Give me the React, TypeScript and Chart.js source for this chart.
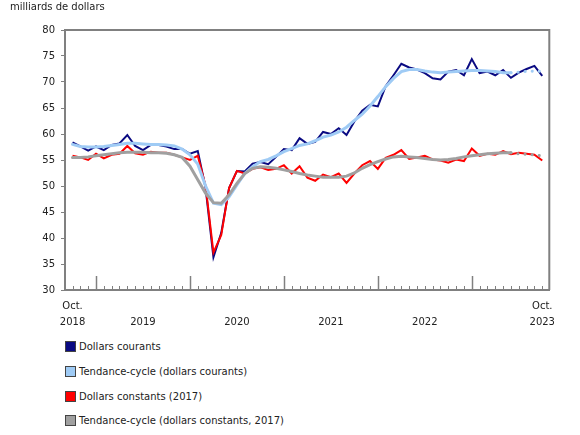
import React, { useEffect, useRef } from "react";
import { Chart, registerables } from "chart.js";

Chart.register(...registerables);

// Months from Oct. 2018 (index 0) to Oct. 2023 (index 60)
const startYear = 2018;
const startMonth = 10;
const monthLabels: string[] = [];
for (let i = 0; i <= 60; i++) {
  const m = ((startMonth - 1 + i) % 12) + 1;
  const y = startYear + Math.floor((startMonth - 1 + i) / 12);
  monthLabels.push(`${y}-${String(m).padStart(2, "0")}`);
}

const xTickPositions = [0, 9, 21, 33, 45, 60];
const xTickLabels = [
  ["Oct.", "2018"],
  ["", "2019"],
  ["", "2020"],
  ["", "2021"],
  ["", "2022"],
  ["Oct.", "2023"],
];

const seriesNames = [
  "Dollars courants",
  "Tendance-cycle (dollars courants)",
  "Dollars constants (2017)",
  "Tendance-cycle (dollars constants, 2017)",
];
const seriesColors = ["#0a0a82", "#9fcbf5", "#ff0000", "#a0a0a0"];

const dollarsCourants = [
  58.4, 57.6, 56.8, 57.6, 56.9, 57.9, 58.2, 59.8, 57.7, 56.9,
  57.9, 57.9, 57.6, 57.1, 57.1, 56.2, 56.7, 49.6, 36.3, 41.0,
  49.6, 52.9, 52.8, 54.3, 54.6, 54.2, 55.6, 57.1, 56.9, 59.2,
  58.1, 58.5, 60.4, 60.0, 61.1, 59.8, 62.4, 64.5, 65.6, 65.3,
  69.2, 71.3, 73.5, 72.8, 72.4, 71.7, 70.7, 70.5, 72.0, 72.3,
  71.3, 74.4, 71.7, 72.0, 71.3, 72.3, 70.8, 71.8, 72.5, 73.1,
  71.2,
];

const tendanceCourants = [
  58.0, 57.6, 57.5, 57.5, 57.6, 57.8, 58.0, 58.2, 58.2, 58.1,
  58.0, 58.0, 57.9, 57.7, 57.1, 56.0, 54.2, 50.0, 46.7, 46.4,
  47.9, 50.2, 52.4, 53.7, 54.7, 55.1, 55.8, 56.6, 57.2, 57.8,
  58.1, 58.7, 59.4, 59.8, 60.4, 61.3, 62.6, 63.8, 65.4, 67.2,
  69.1, 70.7, 72.0, 72.4, 72.4, 72.1, 71.9, 71.8, 71.9, 72.0,
  72.1, 72.2, 72.2, 72.1, 72.0, 71.8, 71.8, 71.9, 72.05, 72.1,
  72.05,
];

const dollarsConstants = [
  55.8, 55.5, 55.0, 56.2, 55.3, 56.0, 56.2, 57.7, 56.3, 56.0,
  56.6, 56.4, 56.4, 56.0, 55.5, 55.0, 55.8, 50.0, 37.2, 40.6,
  49.6, 52.9, 52.4, 53.3, 53.6, 53.1, 53.3, 54.0, 52.4, 53.8,
  51.6, 51.0, 52.2, 51.7, 52.4, 50.6, 52.4, 54.0, 54.8, 53.3,
  55.4, 56.0, 56.9, 55.2, 55.5, 55.8, 55.1, 54.9, 54.5, 55.1,
  54.8, 57.2, 55.8, 56.2, 56.0, 56.7, 56.1, 56.4, 56.2, 56.0,
  54.9,
];

const tendanceConstants = [
  55.5, 55.5, 55.6, 55.8, 56.0, 56.2, 56.4, 56.5, 56.5, 56.5,
  56.4, 56.4, 56.3, 56.0, 55.5, 53.8, 51.2, 48.6, 46.8, 46.7,
  48.3, 50.5, 52.4, 53.4, 53.7, 53.6, 53.4, 53.1, 52.8, 52.4,
  52.1, 51.9, 51.7, 51.7, 51.7, 51.9, 52.5, 53.4, 54.1, 54.7,
  55.2, 55.6, 55.7, 55.6, 55.5, 55.3, 55.1, 55.0, 55.1, 55.3,
  55.6, 55.8, 56.0, 56.2, 56.3, 56.4, 56.4, 56.2, 56.1, 56.0,
  55.8,
];

const trendDottedFrom = 56;

const FONT = "'DejaVu Sans', Verdana, sans-serif";
const AXIS_COLOR = "#808080";

const toPoints = (vals: number[]) => vals.map((v, i) => ({ x: i, y: v }));

const frameAndTicks = {
  id: "frameAndTicks",
  afterDraw(chart: any) {
    const { ctx, chartArea } = chart;
    const xs = chart.scales.x;
    ctx.save();
    ctx.strokeStyle = AXIS_COLOR;
    // top and right border
    ctx.lineWidth = 2;
    ctx.beginPath();
    ctx.moveTo(chartArea.left, chartArea.top);
    ctx.lineTo(chartArea.right, chartArea.top);
    ctx.lineTo(chartArea.right, chartArea.bottom);
    ctx.stroke();
    // month tick marks (inside, upward)
    for (let i = 0; i < monthLabels.length; i++) {
      const month = Number(monthLabels[i].slice(5));
      const x = Math.round(xs.getPixelForValue(i)) + 0.5;
      const major = month === 1;
      ctx.lineWidth = major ? 1.5 : 1;
      ctx.beginPath();
      ctx.moveTo(x, chartArea.bottom);
      ctx.lineTo(x, chartArea.bottom - (major ? 14 : 4));
      ctx.stroke();
    }
    ctx.restore();
  },
};

function ChartCanvas() {
  const ref = useRef<HTMLCanvasElement | null>(null);
  useEffect(() => {
    document.body.style.margin = "0";
    const trendSegment = {
      borderDash: (c: any) => (c.p0DataIndex >= trendDottedFrom ? [0.1, 7] : undefined),
    };
    const chart = new Chart(ref.current as HTMLCanvasElement, {
      type: "line",
      data: {
        datasets: [
          {
            label: seriesNames[3],
            data: toPoints(tendanceConstants),
            borderColor: seriesColors[3],
            borderWidth: 3,
            pointRadius: 0,
            borderCapStyle: "round",
            segment: trendSegment,
            order: 1,
          },
          {
            label: seriesNames[1],
            data: toPoints(tendanceCourants),
            borderColor: seriesColors[1],
            borderWidth: 3,
            pointRadius: 0,
            borderCapStyle: "round",
            segment: trendSegment,
            order: 2,
          },
          {
            label: seriesNames[2],
            data: toPoints(dollarsConstants),
            borderColor: seriesColors[2],
            borderWidth: 2,
            pointRadius: 0,
            order: 3,
          },
          {
            label: seriesNames[0],
            data: toPoints(dollarsCourants),
            borderColor: seriesColors[0],
            borderWidth: 2,
            pointRadius: 0,
            order: 4,
          },
        ],
      } as any,
      options: {
        responsive: false,
        animation: false,
        devicePixelRatio: 1,
        layout: { padding: { left: 10, right: 30.7, top: 0, bottom: 0 } },
        plugins: {
          legend: { display: false },
          tooltip: { enabled: false },
          title: {
            display: true,
            text: "milliards de dollars",
            align: "start",
            color: "#222",
            font: { family: FONT, size: 10, weight: "normal", lineHeight: 1.2 },
            padding: { top: 1, bottom: 17 },
          },
        },
        scales: {
          x: {
            type: "linear",
            min: -0.96,
            max: 60.9,
            grid: { display: false },
            border: { display: true, color: AXIS_COLOR, width: 2 },
            afterBuildTicks: (scale: any) => {
              scale.ticks = xTickPositions.map((v) => ({ value: v }));
            },
            afterFit: (scale: any) => {
              scale.height = 50;
            },
            ticks: {
              autoSkip: false,
              maxRotation: 0,
              minRotation: 0,
              padding: 0,
              color: "#222",
              font: { family: FONT, size: 10, lineHeight: 1.6 },
              callback: (_v: any, index: number) => xTickLabels[index],
            },
          },
          y: {
            min: 30,
            max: 80,
            grid: {
              display: true,
              drawOnChartArea: false,
              drawTicks: true,
              tickLength: 4,
              tickColor: AXIS_COLOR,
              tickWidth: 1,
            },
            border: { display: true, color: AXIS_COLOR, width: 2 },
            afterFit: (scale: any) => {
              scale.width = 55;
            },
            ticks: {
              stepSize: 5,
              padding: 6,
              color: "#222",
              font: { family: FONT, size: 10 },
            },
          },
        },
      } as any,
      plugins: [frameAndTicks],
    });
    return () => chart.destroy();
  }, []);
  return <canvas ref={ref} width={580} height={340} style={{ display: "block" }} />;
}

const legendRowTops = [340, 365, 390, 414];

export default function App() {
  return (
    <div style={{ position: "relative", width: 580, height: 435, fontFamily: FONT, background: "#fff" }}>
      <ChartCanvas />
      {seriesNames.map((name, i) => (
        <div
          key={name}
          style={{
            position: "absolute",
            left: 65,
            top: legendRowTops[i],
            height: 12,
            display: "flex",
            alignItems: "center",
            fontSize: 10,
            color: "#222",
            whiteSpace: "nowrap",
          }}
        >
          <span
            style={{
              display: "inline-block",
              width: 9,
              height: 9,
              background: seriesColors[i],
              border: "1px solid #444",
              marginRight: 3,
            }}
          />
          <span>{name}</span>
        </div>
      ))}
    </div>
  );
}
